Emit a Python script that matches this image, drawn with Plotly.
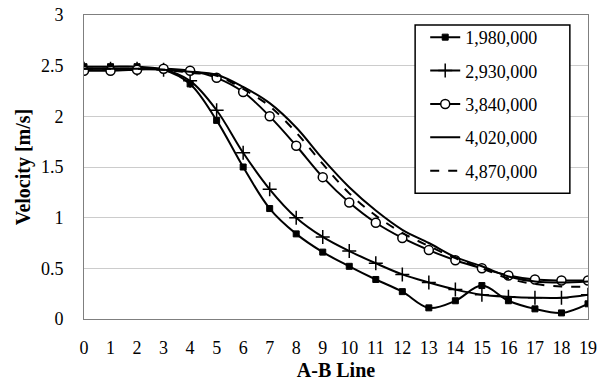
import plotly.graph_objects as go

x_pos = list(range(20))
names = ["1,980,000", "2,930,000", "3,840,000", "4,020,000", "4,870,000"]
s1980 = [2.49, 2.49, 2.49, 2.46, 2.32, 1.96, 1.50, 1.09, 0.84, 0.66, 0.52, 0.39, 0.27, 0.11, 0.18, 0.33, 0.18, 0.10, 0.06, 0.15]
s2930 = [2.47, 2.47, 2.47, 2.46, 2.35, 2.06, 1.64, 1.28, 1.00, 0.81, 0.67, 0.55, 0.44, 0.36, 0.29, 0.24, 0.22, 0.21, 0.21, 0.24]
s3840 = [2.45, 2.45, 2.46, 2.47, 2.45, 2.38, 2.24, 2.00, 1.71, 1.40, 1.15, 0.95, 0.80, 0.68, 0.58, 0.50, 0.43, 0.39, 0.38, 0.38]
s4020 = [2.47, 2.47, 2.47, 2.46, 2.44, 2.41, 2.29, 2.13, 1.89, 1.58, 1.30, 1.07, 0.88, 0.75, 0.61, 0.52, 0.42, 0.37, 0.36, 0.37]
s4870 = [2.47, 2.47, 2.47, 2.46, 2.43, 2.40, 2.27, 2.10, 1.84, 1.53, 1.24, 1.02, 0.85, 0.72, 0.60, 0.50, 0.40, 0.345, 0.32, 0.32]

FONT = "Liberation Serif"
fig = go.Figure()

def add(y, name, mode, marker=None, dash="solid"):
    fig.add_trace(go.Scatter(
        x=x_pos, y=y, name=name, mode=mode, legendgroup=name,
        line=dict(color="black", width=2, shape="spline", dash=dash),
        marker=marker,
    ))

add(s1980, names[0], "lines+markers",
    dict(symbol="square", size=6, color="black", line=dict(color="black", width=1)))
add(s2930, names[1], "lines+markers",
    dict(symbol="cross-thin", size=10, color="black", line=dict(color="black", width=1.5)))
add(s3840, names[2], "lines+markers",
    dict(symbol="circle", size=9, color="white", line=dict(color="black", width=1.5)))
add(s4020, names[3], "lines")
add(s4870, names[4], "lines", dash="dash")

# legend frame (opaque box behind the legend entries)
fig.add_shape(type="rect", xref="paper", yref="paper",
              x0=0.657, x1=0.964, y0=0.414, y1=0.967,
              fillcolor="white", line=dict(color="black", width=1.5), layer="above")

# page body has an 8px margin, so the figure is sized/offset to compensate
fig.update_layout(
    width=600, height=378,
    margin=dict(l=76, r=20, t=7, b=67, autoexpand=False),
    paper_bgcolor="white", plot_bgcolor="white",
    font=dict(family=FONT, size=18, color="black"),
    showlegend=True,
    legend=dict(
        x=0.677, y=0.987, xanchor="left", yanchor="top",
        bgcolor="rgba(0,0,0,0)", borderwidth=0,
        font=dict(family=FONT, size=18, color="black"),
        tracegroupgap=7, itemwidth=30,
    ),
    xaxis=dict(
        range=[0, 19], dtick=1, tick0=0, automargin=False,
        showgrid=False, zeroline=False,
        showline=True, linecolor="#7f7f7f", linewidth=1, mirror=True,
        ticks="", ticklabelstandoff=12, ticklabeloverflow="allow",
        title=dict(text="<b>A-B Line</b>", font=dict(family=FONT, size=20), standoff=6),
    ),
    yaxis=dict(
        range=[0, 3], dtick=0.5, tick0=0, automargin=False,
        showgrid=True, gridcolor="#cccccc", gridwidth=1, zeroline=False,
        showline=True, linecolor="#7f7f7f", linewidth=1, mirror=True,
        ticks="", ticklabelstandoff=16, ticklabeloverflow="allow",
        title=dict(text="<b>Velocity [m/s]</b>", font=dict(family=FONT, size=20), standoff=4),
    ),
)

fig.write_html("out.html")
